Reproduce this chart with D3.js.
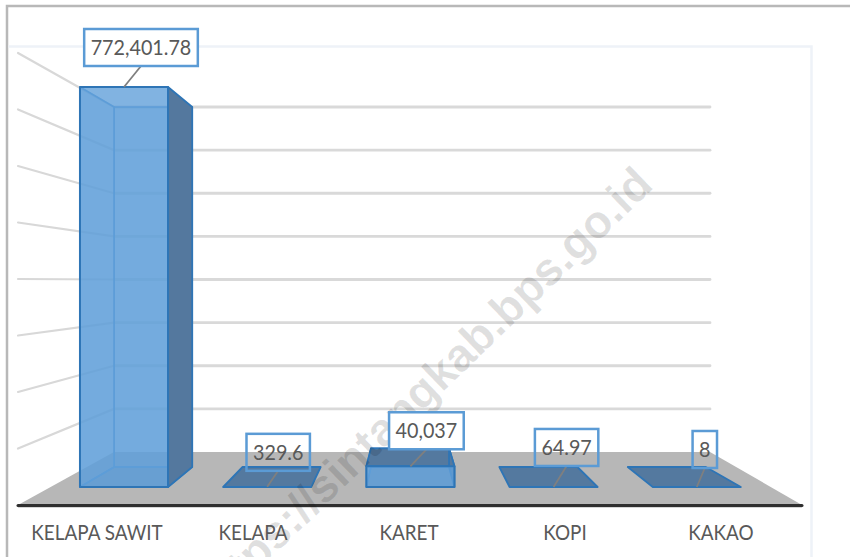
<!DOCTYPE html>
<html><head><meta charset="utf-8">
<style>html,body{margin:0;padding:0;background:#fff;overflow:hidden}svg{display:block}</style>
<script src="https://cdn.jsdelivr.net/npm/d3@7"></script></head>
<body><svg id="c" width="850" height="557"></svg>
<script>
const categories = ["KELAPA SAWIT","KELAPA","KARET","KOPI","KAKAO"];
const values = [772401.78,329.6,40037,64.97,8];
const valueLabels = ["772,401.78","329.6","40,037","64.97","8"];
const gridTicks = [100000,200000,300000,400000,500000,600000,700000,800000];

const svg = d3.select("#c");
const W = 850, H = 557;
const FONT = "Lato, 'Open Sans', sans-serif";
// perspective: front plane, back plane, back wall, left edge
const maxV = 772401.78, frontPx = 400, backPx = 360;
const frontY = d3.scaleLinear().domain([0,maxV]).range([487,487-frontPx]);
const backY  = d3.scaleLinear().domain([0,maxV]).range([467,467-backPx]);
const wallY  = d3.scaleLinear().domain([0,800000]).range([452,107]);
const edgeY  = d3.scaleLinear().domain([0,800000]).range([505,53]);
const frontX = d3.scaleBand().domain(categories).range([52.4,768.4]).paddingInner(0.385).paddingOuter(0.1925);
const backX  = d3.scaleBand().domain(categories).range([89,731]).paddingInner(0.392).paddingOuter(0.196);
const axisX  = d3.scaleBand().domain(categories).range([19,799]);
const wallL = 114, wallR = 710, edgeL = 18, floorR = 802;
// label box layout relative to the bar's leader anchor
const labelDx = [17,11,16,13,8], labelDy = [-21,-16,-17,-21,-19], labelOpaque = [true,false,true,false,false];

const poly = (g,pts,fill,stroke,sw,op)=>g.append("polygon")
  .attr("points",pts.map(p=>p.join(",")).join(" "))
  .attr("fill",fill).attr("fill-opacity",op==null?1:op)
  .attr("stroke",stroke||"none").attr("stroke-width",sw||0).attr("stroke-linejoin","round");

// outer frame
svg.append("path").attr("d",`M7,${H}V6H${W}`).attr("fill","none").attr("stroke","#b8b8b8").attr("stroke-width",2.5);
svg.append("path").attr("d",`M8.5,46.5H811.5V${H}`).attr("fill","none").attr("stroke","#eef2f8").attr("stroke-width",2.5);

// walls
const gw = svg.append("g");
gw.selectAll("line.grid").data(gridTicks).join("line").attr("class","grid")
  .attr("x1",wallL).attr("x2",wallR).attr("y1",d=>wallY(d)).attr("y2",d=>wallY(d))
  .attr("stroke","#d9d9d9").attr("stroke-width",2.8).attr("stroke-linecap","round");
gw.selectAll("line.edge").data(gridTicks).join("line").attr("class","edge")
  .attr("x1",edgeL).attr("x2",wallL).attr("y1",d=>edgeY(d)).attr("y2",d=>wallY(d))
  .attr("stroke","#d8d8d8").attr("stroke-width",2.2).attr("stroke-linecap","round");

// floor
poly(svg.append("g"),[[edgeL,edgeY(0)],[wallL,wallY(0)],[wallR,wallY(0)],[floorR,edgeY(0)]],"#b7b7b7");

// bars
const gb = svg.append("g");
values.forEach((v,i)=>{
  const c = categories[i];
  const fl = frontX(c), fr = fl+frontX.bandwidth();
  const bl = backX(c),  br = bl+backX.bandwidth();
  const f0 = frontY(0), ft = frontY(v), b0 = backY(0), bt = backY(v);
  const g = gb.append("g");
  const edge = "#2e75b6";
  if (ft-f0 > -2) {
    poly(g,[[fl,f0],[fr,f0],[br,b0],[bl,b0]],"#54799f",edge,1.8);
    return;
  }
  poly(g,[[bl,bt],[br,bt],[br,b0],[bl,b0]],"#5b9bd5","#4a90d2",1.5,0.4);
  if (bl > fl) poly(g,[[fl,ft],[bl,bt],[bl,b0],[fl,f0]],"#5b9bd5","#4a90d2",1.5,0.4);
  poly(g,[[fl,f0],[fr,f0],[br,b0],[bl,b0]],"#4f7fb0","#4a90d2",1.5,0.5);
  if (ft > bt) {
    poly(g,[[fl,ft],[fr,ft],[br,bt],[bl,bt]],"#54799f",edge,1.8);
  }
  poly(g,[[fr,ft],[br,bt],[br,b0],[fr,f0]],"#54789e",edge,1.8);
  poly(g,[[fl,ft],[fr,ft],[fr,f0],[fl,f0]],"#62a0da",edge,2,0.8);
});

// front edge of floor
svg.append("line").attr("x1",edgeL).attr("x2",floorR).attr("y1",507).attr("y2",507).attr("stroke","#c9c9c9").attr("stroke-width",1.5);
svg.append("line").attr("x1",edgeL).attr("x2",floorR).attr("y1",505.5).attr("y2",505.5).attr("stroke","#2f2f2f").attr("stroke-width",3).attr("stroke-linecap","round");

// watermark
svg.append("text").attr("transform","translate(655,187) rotate(-44)").attr("text-anchor","end")
  .attr("font-family","'Liberation Sans', Arial, sans-serif").attr("font-weight","bold").attr("font-size",46)
  .attr("fill","#000").attr("fill-opacity",0.12).text("https://sintangkab.bps.go.id");

// category axis
const ax = svg.append("g").attr("transform","translate(0,519)")
  .call(d3.axisBottom(axisX).tickSize(0).tickPadding(6));
ax.select(".domain").remove();
ax.selectAll("text").attr("font-family",FONT).attr("font-size",21).attr("fill","#595959").attr("transform","scale(0.9,1)");

// data labels
const gl = svg.append("g");
const labelScale = 0.94;
values.forEach((v,i)=>{
  const c = categories[i];
  const ax0 = frontX(c)+frontX.bandwidth()/2, ay0 = frontY(v);
  const cx = ax0+labelDx[i], by = ay0+labelDy[i];
  gl.append("line").attr("x1",ax0).attr("y1",ay0).attr("x2",cx).attr("y2",by)
    .attr("stroke","#7f7f7f").attr("stroke-width",1.8);
  const box = gl.append("rect");
  const t = gl.append("text").attr("transform",`translate(${cx},${by-11}) scale(${labelScale},1)`)
    .attr("text-anchor","middle").attr("font-family",FONT).attr("font-size",21).attr("fill","#595959").text(valueLabels[i]);
  const bw = t.node().getBBox().width*labelScale+13, bh = 37;
  box.attr("x",cx-bw/2).attr("y",by-bh).attr("width",bw).attr("height",bh)
    .attr("fill",labelOpaque[i]?"#ffffff":"none")
    .attr("stroke","#5b9bd5").attr("stroke-width",2.5);
});
</script></body></html>
